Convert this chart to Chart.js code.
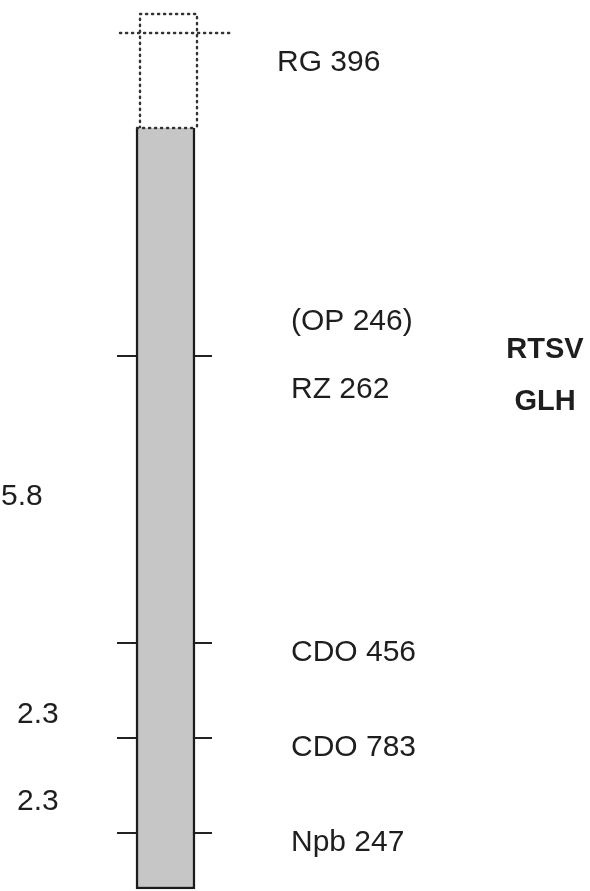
<!DOCTYPE html>
<html>
<head>
<meta charset="utf-8">
<script src="https://cdn.jsdelivr.net/npm/chart.js@4/dist/chart.umd.min.js"></script>
<style>
  html, body { margin: 0; padding: 0; background: #ffffff; }
  #wrap { width: 590px; height: 891px; }
</style>
</head>
<body>
<div id="wrap"><canvas id="c" width="590" height="891"></canvas></div>
<script>
// Marker names on the right of the chromosome and their vertical positions (map units, top = 0)
const markerNames = ['RG 396', '(OP 246)', 'RZ 262', 'CDO 456', 'CDO 783', 'Npb 247'];
const markerLabelPos = [63, 322, 390, 653, 748, 843];
// Marker tick positions on the chromosome
const tickPos = [356, 643, 738, 833];
// Genetic distances (cM) between adjacent ticks
const intervalLabels = ['5.8', '2.3', '2.3'];
const intervalPos = [497, 715, 802];
// Trait loci
const traitNames = ['RTSV', 'GLH'];
const traitPos = [350, 402];
// Chromosome segment extent (solid part) and uncertain (dotted) extension
const chromStart = 128;
const chromEnd = 889;
const dottedTop = 14;
const dottedCross = 33;

const labelPlugin = {
  id: 'labels',
  afterDatasetsDraw(chart) {
    const { ctx, scales: { x, y } } = chart;
    ctx.save();
    ctx.fillStyle = '#1e1e1e';
    ctx.textBaseline = 'middle';
    ctx.font = '30px "Liberation Sans", Arial, sans-serif';
    ctx.textAlign = 'left';
    markerNames.forEach((n, i) => {
      const px = i === 0 ? 277 : 291;
      ctx.fillText(n, x.getPixelForValue(px), y.getPixelForValue(markerLabelPos[i]));
    });
    const ivx = [1, 17, 17];
    intervalLabels.forEach((n, i) => {
      ctx.fillText(n, x.getPixelForValue(ivx[i]), y.getPixelForValue(intervalPos[i]));
    });
    ctx.font = 'bold 29px "Liberation Sans", Arial, sans-serif';
    ctx.textAlign = 'center';
    traitNames.forEach((n, i) => {
      ctx.fillText(n, x.getPixelForValue(545), y.getPixelForValue(traitPos[i]));
    });
    ctx.restore();
  }
};

const tickDatasets = tickPos.map(p => ({
  type: 'line',
  data: [{ x: 117, y: p }, { x: 212, y: p }],
  borderColor: '#222',
  borderWidth: 2,
  pointRadius: 0,
  order: 2
}));

const dotted = {
  borderColor: '#333',
  borderWidth: 2.4,
  borderDash: [1.2, 4.8],
  borderCapStyle: 'round',
  pointRadius: 0,
  fill: false,
  tension: 0
};

new Chart(document.getElementById('c'), {
  type: 'bar',
  data: {
    datasets: [
      {
        type: 'bar',
        data: [{ x: 165.5, y: [chromStart, chromEnd] }],
        backgroundColor: '#c6c6c6',
        borderColor: '#1c1c1c',
        borderWidth: { left: 2.5, right: 2.5, top: 0, bottom: 2.5 },
        borderSkipped: false,
        barThickness: 59,
        grouped: false,
        order: 0
      },
      ...tickDatasets,
      Object.assign({
        type: 'line',
        data: [{ x: 140, y: chromStart }, { x: 140, y: dottedTop }, { x: 197, y: dottedTop }, { x: 197, y: chromStart }],
        order: 1
      }, dotted),
      Object.assign({
        type: 'line',
        data: [{ x: 137, y: chromStart }, { x: 195, y: chromStart }],
        order: -1
      }, dotted),
      Object.assign({
        type: 'line',
        data: [{ x: 120, y: dottedCross }, { x: 230, y: dottedCross }],
        order: 1
      }, dotted)
    ]
  },
  options: {
    responsive: false,
    animation: false,
    layout: { padding: 0 },
    plugins: { legend: { display: false }, tooltip: { enabled: false } },
    scales: {
      x: { type: 'linear', min: 0, max: 590, offset: false, display: false },
      y: { type: 'linear', min: 0, max: 891, reverse: true, offset: false, display: false }
    }
  },
  plugins: [labelPlugin]
});
</script>
</body>
</html>
